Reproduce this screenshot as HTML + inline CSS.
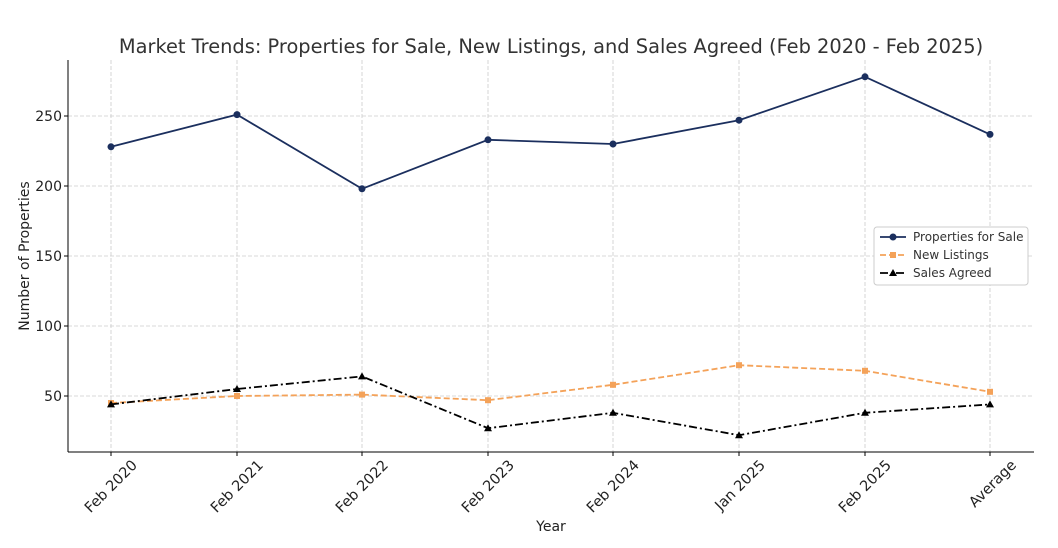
<!DOCTYPE html>
<html><head><meta charset="utf-8"><style>
body{margin:0;background:#fff;}
svg{display:block;font-family:"DejaVu Sans","Liberation Sans",sans-serif;}
</style></head><body>
<svg width="1058" height="548" viewBox="0 0 1058 548" xmlns="http://www.w3.org/2000/svg">
<rect width="1058" height="548" fill="#fff"/>
<text x="551" y="53" font-size="19.4" fill="#333" text-anchor="middle">Market Trends: Properties for Sale, New Listings, and Sales Agreed (Feb 2020 - Feb 2025)</text>
<g stroke="#ccc" stroke-width="0.8" stroke-dasharray="4,2">
<line x1="111" y1="60" x2="111" y2="452"/><line x1="237" y1="60" x2="237" y2="452"/><line x1="362" y1="60" x2="362" y2="452"/><line x1="488" y1="60" x2="488" y2="452"/><line x1="613" y1="60" x2="613" y2="452"/><line x1="739" y1="60" x2="739" y2="452"/><line x1="865" y1="60" x2="865" y2="452"/><line x1="990" y1="60" x2="990" y2="452"/>
<line x1="68" y1="116" x2="1034" y2="116"/><line x1="68" y1="186" x2="1034" y2="186"/><line x1="68" y1="256" x2="1034" y2="256"/><line x1="68" y1="326" x2="1034" y2="326"/><line x1="68" y1="396" x2="1034" y2="396"/>
</g>
<line x1="68" y1="60" x2="68" y2="452" stroke="#000" stroke-width="1"/>
<line x1="68" y1="452" x2="1034" y2="452" stroke="#000" stroke-width="1"/>
<g font-size="14" fill="#222" text-anchor="end">
<text x="62" y="121">250</text><text x="62" y="191">200</text><text x="62" y="261">150</text><text x="62" y="331">100</text><text x="62" y="401">50</text>
</g>
<g stroke="#000"><line x1="64" y1="116" x2="68" y2="116"/><line x1="64" y1="186" x2="68" y2="186"/><line x1="64" y1="256" x2="68" y2="256"/><line x1="64" y1="326" x2="68" y2="326"/><line x1="64" y1="396" x2="68" y2="396"/>
<line x1="111" y1="452" x2="111" y2="456"/><line x1="237" y1="452" x2="237" y2="456"/><line x1="362" y1="452" x2="362" y2="456"/><line x1="488" y1="452" x2="488" y2="456"/><line x1="613" y1="452" x2="613" y2="456"/><line x1="739" y1="452" x2="739" y2="456"/><line x1="865" y1="452" x2="865" y2="456"/><line x1="990" y1="452" x2="990" y2="456"/></g>
<g font-size="14.5" fill="#222" text-anchor="end">
<text transform="translate(138,466) rotate(-45)">Feb 2020</text>
<text transform="translate(264,466) rotate(-45)">Feb 2021</text>
<text transform="translate(389,466) rotate(-45)">Feb 2022</text>
<text transform="translate(515,466) rotate(-45)">Feb 2023</text>
<text transform="translate(640,466) rotate(-45)">Feb 2024</text>
<text transform="translate(766,466) rotate(-45)">Jan 2025</text>
<text transform="translate(892,466) rotate(-45)">Feb 2025</text>
<text transform="translate(1017,466) rotate(-45)">Average</text>
</g>
<text x="551" y="531" font-size="14" fill="#222" text-anchor="middle">Year</text>
<text transform="translate(29,256) rotate(-90)" font-size="14" fill="#222" text-anchor="middle">Number of Properties</text>
<polyline fill="none" stroke="#1b2f5e" stroke-width="1.8" points="111,146.8 237,114.6 362,188.8 488,139.8 613,144 739,120.2 865,76.8 990,134.4"/>
<g fill="#1b2f5e"><circle cx="111" cy="146.8" r="3.5"/><circle cx="237" cy="114.6" r="3.5"/><circle cx="362" cy="188.8" r="3.5"/><circle cx="488" cy="139.8" r="3.5"/><circle cx="613" cy="144" r="3.5"/><circle cx="739" cy="120.2" r="3.5"/><circle cx="865" cy="76.8" r="3.5"/><circle cx="990" cy="134.4" r="3.5"/></g>
<polyline fill="none" stroke="#f4a259" stroke-width="1.8" stroke-dasharray="6,3" points="111,403 237,396 362,394.6 488,400.2 613,384.8 739,365.2 865,370.8 990,391.8"/>
<g fill="#f4a259"><rect x="108" y="400" width="6" height="6"/><rect x="234" y="393" width="6" height="6"/><rect x="359" y="391.6" width="6" height="6"/><rect x="485" y="397.2" width="6" height="6"/><rect x="610" y="381.8" width="6" height="6"/><rect x="736" y="362.2" width="6" height="6"/><rect x="862" y="367.8" width="6" height="6"/><rect x="987" y="388.8" width="6" height="6"/></g>
<polyline fill="none" stroke="#000" stroke-width="1.8" stroke-dasharray="8,3,2,3" points="111,404.4 237,389 362,376.4 488,428.2 613,412.8 739,435.2 865,412.8 990,404.4"/>
<g fill="#000">
<polygon points="111,400.4 115,407.4 107,407.4"/><polygon points="237,385 241,392 233,392"/><polygon points="362,372.4 366,379.4 358,379.4"/><polygon points="488,424.2 492,431.2 484,431.2"/><polygon points="613,408.8 617,415.8 609,415.8"/><polygon points="739,431.2 743,438.2 735,438.2"/><polygon points="865,408.8 869,415.8 861,415.8"/><polygon points="990,400.4 994,407.4 986,407.4"/></g>
<rect x="874" y="227" width="154" height="58" rx="3" fill="#fff" stroke="#ccc"/>
<g font-size="12" fill="#333">
<line x1="880" y1="237" x2="906" y2="237" stroke="#1b2f5e" stroke-width="1.8"/><circle cx="893" cy="237" r="3.5" fill="#1b2f5e"/><text x="913" y="241">Properties for Sale</text>
<line x1="880" y1="255" x2="906" y2="255" stroke="#f4a259" stroke-width="1.8" stroke-dasharray="6,3"/><rect x="890" y="252" width="6" height="6" fill="#f4a259"/><text x="913" y="259">New Listings</text>
<line x1="880" y1="273" x2="906" y2="273" stroke="#000" stroke-width="1.8" stroke-dasharray="8,3,2,3"/><polygon points="893,269 897,276 889,276" fill="#000"/><text x="913" y="277">Sales Agreed</text>
</g>
</svg>
</body></html>
